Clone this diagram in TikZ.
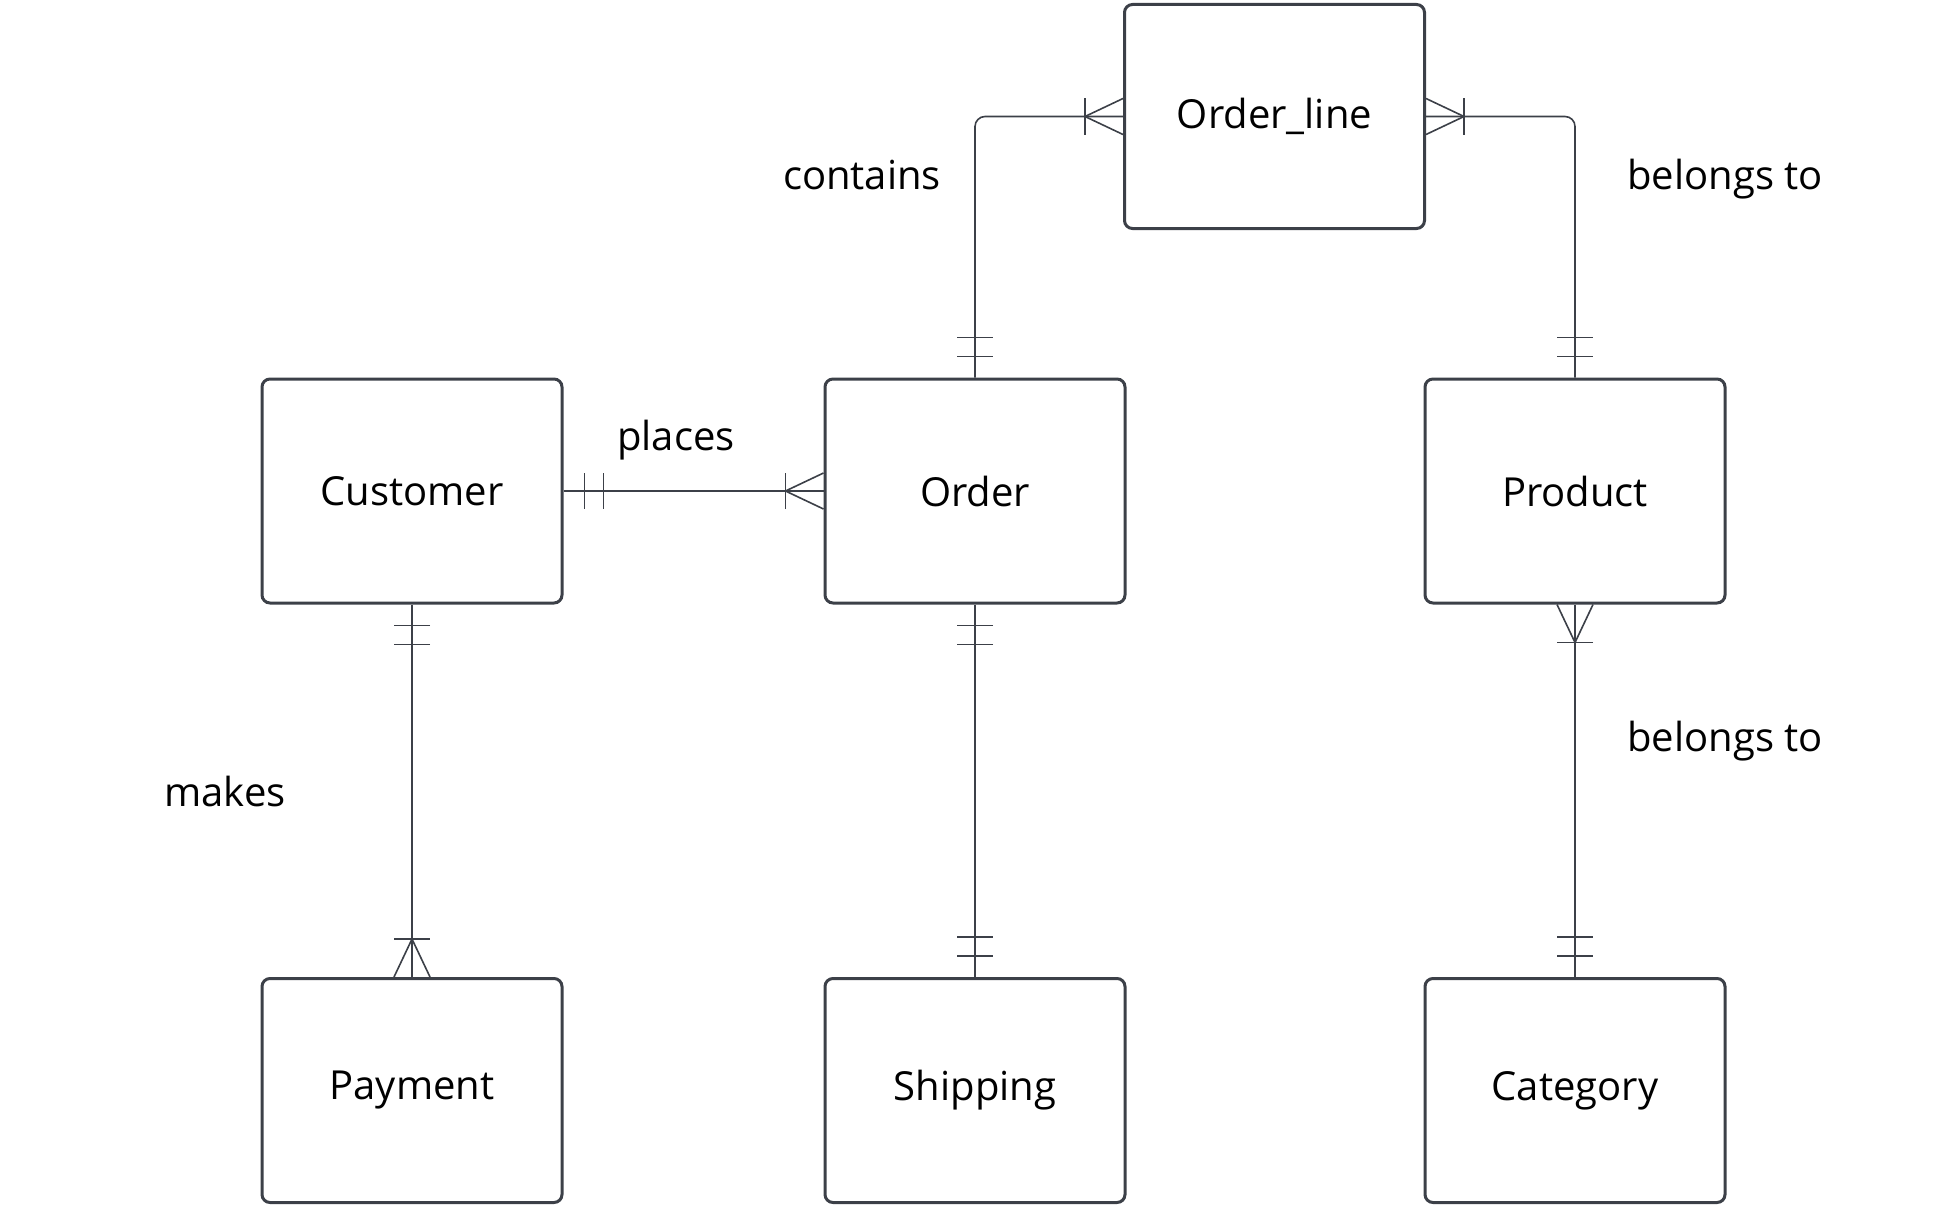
\documentclass[tikz,border=0pt]{standalone}
\usepackage{fontspec}
\setmainfont{Open Sans}
\usepackage{xcolor}
\usepackage{tikz}

\definecolor{ergray}{RGB}{60,64,72}

\tikzset{
  entity/.style={draw=ergray, line width=3pt, rounded corners=8pt,
    minimum width=300pt, minimum height=224pt, inner sep=0pt,
    font=\fontsize{40}{48}\selectfont},
  rel/.style={draw=ergray, line width=1.6pt},
  rellabel/.style={anchor=base, inner sep=0pt, font=\fontsize{40}{48}\selectfont},
  pics/erone/.style={code={
    \draw[rel] (21,-18) -- (21,18);
    \draw[rel] (40,-18) -- (40,18);
  }},
  pics/ermany/.style={code={
    \draw[rel] (38,-18) -- (38,18);
    \draw[rel] (0,-18) -- (38,0) -- (0,18);
  }}
}

\begin{document}
\begin{tikzpicture}[x=1pt, y=-1pt]
				\useasboundingbox (0,0) rectangle (1950,1204);
				
				%Entities
				\node[entity] (ordl) at (1274.5, 116.5) {Order\_line};
				\node[entity] (customer) at (412, 491) {Customer};
				\node[entity] (order) at (975, 491) {Order};
				\node[entity] (product) at (1575, 491) {Product};
				\node[entity] (payment) at (412, 1090.5) {Payment};
				\node[entity] (shipping) at (975, 1090.5) {Shipping};
				\node[entity] (category) at (1575, 1090.5) {Category};
				
				%Relations
				\draw[rel, rounded corners=10pt] (ordl.west) -| (order.north);
				\draw[rel, rounded corners=10pt] (ordl.east) -| (product.north);
				\draw[rel] (customer.east) -- (order.west);
				\draw[rel] (customer.south) -- (payment.north);
				\draw[rel] (order.south) -- (shipping.north);
				\draw[rel] (product.south) -- (category.north);
				
				%Ends
				\pic[rotate=180] at (ordl.west) {ermany};
				\pic[rotate=90] at (order.north) {erone};
				\pic at (ordl.east) {ermany};
				\pic[rotate=90] at (product.north) {erone};
				\pic at (customer.east) {erone};
				\pic[rotate=180] at (order.west) {ermany};
				\pic[rotate=-90] at (customer.south) {erone};
				\pic[rotate=90] at (payment.north) {ermany};
				\pic[rotate=-90] at (order.south) {erone};
				\pic[rotate=90] at (shipping.north) {erone};
				\pic[rotate=-90] at (product.south) {ermany};
				\pic[rotate=90] at (category.north) {erone};
				
				%Labels
				\node[rellabel] (contains) at (862, 189) {contains};
				\node[rellabel] (belongs1) at (1725, 189) {belongs to};
				\node[rellabel] (places) at (676, 450) {places};
				\node[rellabel] (makes) at (225, 806) {makes};
				\node[rellabel] (belongs2) at (1725, 751) {belongs to};
			\end{tikzpicture}
\end{document}
